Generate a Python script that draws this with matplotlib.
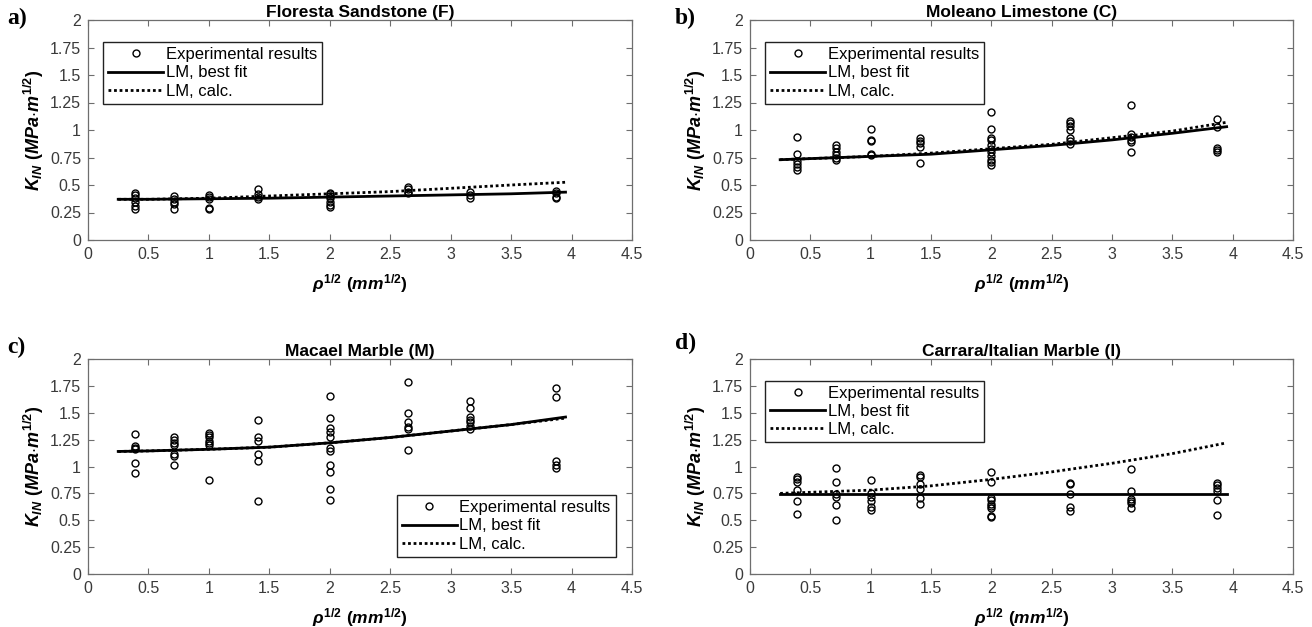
import matplotlib
matplotlib.use("Agg")
import matplotlib.pyplot as plt

plt.rcParams['font.family'] = ['Liberation Sans', 'DejaVu Sans']
plt.rcParams['mathtext.fontset'] = 'custom'
plt.rcParams['mathtext.it'] = 'Liberation Sans:italic:bold'
plt.rcParams['mathtext.rm'] = 'Liberation Sans:bold'
plt.rcParams['mathtext.bf'] = 'Liberation Sans:bold'

# ---- data ----
titles = ["Floresta Sandstone (F)", "Moleano Limestone (C)",
          "Macael Marble (M)", "Carrara/Italian Marble (I)"]
panel_letters = ["a)", "b)", "c)", "d)"]

x_groups = [0.39, 0.71, 1.0, 1.41, 2.0, 2.65, 3.16, 3.87]

exp_F = [
    [0.43, 0.41, 0.38, 0.35, 0.31, 0.28],
    [0.40, 0.37, 0.35, 0.33, 0.28],
    [0.41, 0.39, 0.37, 0.29, 0.28],
    [0.46, 0.42, 0.39, 0.37],
    [0.43, 0.42, 0.40, 0.38, 0.35, 0.32, 0.30],
    [0.48, 0.46, 0.44, 0.43],
    [0.44, 0.41, 0.38],
    [0.45, 0.43, 0.39, 0.38],
]
exp_C = [
    [0.94, 0.78, 0.72, 0.69, 0.66, 0.64],
    [0.86, 0.84, 0.80, 0.77, 0.75, 0.73],
    [1.01, 0.91, 0.90, 0.78, 0.77],
    [0.93, 0.90, 0.88, 0.85, 0.70],
    [1.16, 1.01, 0.93, 0.91, 0.86, 0.83, 0.80, 0.76, 0.73, 0.71, 0.68],
    [1.08, 1.06, 1.04, 1.00, 0.93, 0.90, 0.87],
    [1.23, 0.96, 0.94, 0.91, 0.89, 0.80],
    [1.10, 1.03, 0.84, 0.82, 0.80],
]
exp_M = [
    [1.30, 1.19, 1.17, 1.16, 1.03, 0.94],
    [1.27, 1.25, 1.22, 1.20, 1.12, 1.10, 1.01],
    [1.31, 1.29, 1.27, 1.24, 1.22, 1.20, 0.87],
    [1.43, 1.27, 1.24, 1.12, 1.05, 0.68],
    [1.66, 1.45, 1.36, 1.32, 1.27, 1.17, 1.14, 1.01, 0.95, 0.79, 0.69],
    [1.79, 1.50, 1.41, 1.37, 1.35, 1.15],
    [1.61, 1.54, 1.46, 1.43, 1.41, 1.38, 1.35],
    [1.73, 1.65, 1.05, 1.01, 0.99],
]
exp_I = [
    [0.90, 0.88, 0.86, 0.78, 0.68, 0.56],
    [0.99, 0.86, 0.74, 0.72, 0.64, 0.50],
    [0.87, 0.75, 0.72, 0.68, 0.62, 0.60],
    [0.92, 0.90, 0.84, 0.79, 0.71, 0.65],
    [0.95, 0.86, 0.71, 0.69, 0.65, 0.63, 0.61, 0.54, 0.53],
    [0.85, 0.84, 0.74, 0.62, 0.59],
    [0.98, 0.77, 0.70, 0.68, 0.66, 0.61],
    [0.85, 0.83, 0.80, 0.77, 0.69, 0.55],
]

x_line = [0.25, 0.5, 1.0, 1.5, 2.0, 2.5, 3.0, 3.5, 3.95]
fit_F = [0.37, 0.37, 0.375, 0.38, 0.39, 0.40, 0.41, 0.42, 0.435]
calc_F = [0.37, 0.37, 0.38, 0.40, 0.42, 0.44, 0.47, 0.50, 0.525]
fit_C = [0.73, 0.74, 0.76, 0.78, 0.82, 0.86, 0.91, 0.97, 1.03]
calc_C = [0.73, 0.74, 0.76, 0.79, 0.83, 0.87, 0.93, 0.99, 1.07]
fit_M = [1.14, 1.145, 1.16, 1.18, 1.22, 1.27, 1.33, 1.39, 1.46]
calc_M = [1.14, 1.145, 1.16, 1.18, 1.22, 1.27, 1.33, 1.39, 1.45]
fit_I = [0.745, 0.745, 0.745, 0.745, 0.745, 0.745, 0.745, 0.745, 0.745]
calc_I = [0.75, 0.76, 0.78, 0.82, 0.88, 0.95, 1.03, 1.12, 1.22]

exps = [exp_F, exp_C, exp_M, exp_I]
fits = [fit_F, fit_C, fit_M, fit_I]
calcs = [calc_F, calc_C, calc_M, calc_I]

x_ticks = [0, 0.5, 1, 1.5, 2, 2.5, 3, 3.5, 4, 4.5]
x_ticklabels = ["0", "0.5", "1", "1.5", "2", "2.5", "3", "3.5", "4", "4.5"]
y_ticks = [0, 0.25, 0.5, 0.75, 1, 1.25, 1.5, 1.75, 2]
y_ticklabels = ["0", "0.25", "0.5", "0.75", "1", "1.25", "1.5", "1.75", "2"]

# ---- layout ----
W, H = 1312, 627
fig = plt.figure(figsize=(W / 100, H / 100), dpi=100)

boxes = [
    (88, 20, 632, 240),
    (750, 20, 1293, 240),
    (88, 359, 632, 574),
    (750, 359, 1293, 574),
]
letter_pos = [(7, 18), (675, 18), (7, 347), (675, 343)]
legend_cfg = [
    dict(loc='upper left', bbox_to_anchor=(0.028, 0.9)),
    dict(loc='upper left', bbox_to_anchor=(0.028, 0.9)),
    dict(loc='lower right', bbox_to_anchor=(0.97, 0.08)),
    dict(loc='upper left', bbox_to_anchor=(0.028, 0.9)),
]

spine_col = '#6e6e6e'
tick_col = '#3a3a3a'

for i in range(4):
    l, t, r, b = boxes[i]
    ax = fig.add_axes([l / W, 1 - b / H, (r - l) / W, (b - t) / H])
    first = True
    for xg, ys in zip(x_groups, exps[i]):
        ax.plot([xg] * len(ys), ys, linestyle='none', marker='o',
                markersize=5.0, markerfacecolor='none', markeredgecolor='black',
                markeredgewidth=1.0,
                label='Experimental results' if first else None)
        first = False
    ax.plot(x_line, fits[i], color='black', linewidth=2.0, label='LM, best fit')
    ax.plot(x_line, calcs[i], color='black', linewidth=2.0, linestyle=(0, (1, 1)),
            label='LM, calc.')

    ax.set_xlim(0, 4.5)
    ax.set_ylim(0, 2)
    ax.set_xticks(x_ticks)
    ax.set_xticklabels(x_ticklabels)
    ax.set_yticks(y_ticks)
    ax.set_yticklabels(y_ticklabels)
    ax.tick_params(direction='in', top=True, right=True, length=4, width=0.8,
                   color=spine_col, labelcolor=tick_col, labelsize=11.5, pad=5)
    for s in ax.spines.values():
        s.set_color(spine_col)
        s.set_linewidth(0.9)

    ax.set_title(titles[i], fontsize=12.5, fontweight='bold', pad=2)
    ax.set_ylabel(r'$K_{IN}\ (MPa{\cdot}m^{1/2})$', fontsize=13, labelpad=3)
    ax.set_xlabel(r'$\rho^{1/2}\ (mm^{1/2})$', fontsize=12.5, labelpad=7)

    leg = ax.legend(fontsize=12, frameon=True, fancybox=False, framealpha=1,
                    edgecolor='#222222', handlelength=3.3, handletextpad=0.15,
                    borderpad=0.3, labelspacing=0.2, borderaxespad=0,
                    **legend_cfg[i])
    leg.get_frame().set_linewidth(1.0)

    lx, ly = letter_pos[i]
    fig.text(lx / W, 1 - ly / H, panel_letters[i], fontsize=17, fontweight='bold',
             family='Liberation Serif', va='center', ha='left')

fig.savefig('out.png', dpi=100)
